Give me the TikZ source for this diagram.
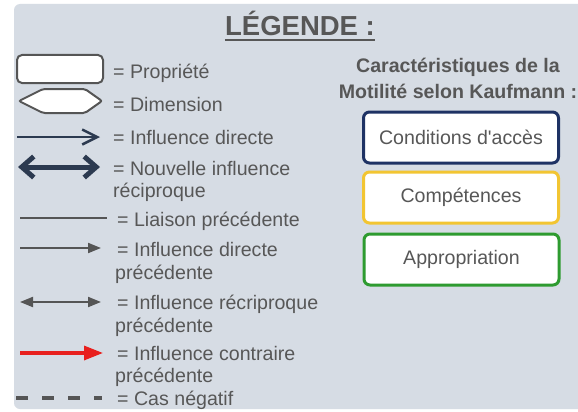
\documentclass[tikz,border=0pt]{standalone}
\usepackage{fontspec}
\newfontfamily\lib{Liberation Sans}
\usetikzlibrary{arrows.meta}
\definecolor{panel}{HTML}{D6DCE4}
\definecolor{txt}{HTML}{575757}
\definecolor{navy}{HTML}{2C3A50}
\definecolor{gline}{HTML}{555555}
\definecolor{redc}{HTML}{E8201E}
\definecolor{bnavy}{HTML}{1E3264}
\definecolor{byellow}{HTML}{F2C532}
\definecolor{bgreen}{HTML}{2E9B30}
\begin{document}
\begin{tikzpicture}[x=1pt,y=-1pt,
  font=\lib\fontsize{19.6}{23}\selectfont,
  lbl/.style={anchor=base west, text=txt, inner sep=0pt},
  hdr/.style={anchor=base, text=txt, inner sep=0pt, font=\lib\bfseries\fontsize{19.6}{23}\selectfont},
  box/.style={draw, line width=3pt, rounded corners=6pt, fill=white, minimum width=195pt, minimum height=51pt, text=txt, inner sep=0pt},
  glink/.style={draw=gline, line width=2pt}
]
\useasboundingbox (0,0) rectangle (578,412);
\fill[white] (0,0) rectangle (578,412);
\fill[panel, rounded corners=6pt] (14,4) rectangle (592,409);

% title
\node[anchor=base, text=txt, inner sep=0pt, font=\lib\bfseries\fontsize{27.5}{30}\selectfont] (title) at (300,36) {LÉGENDE :};
\draw[txt, line width=2.5pt] ([yshift=-4pt]title.base west) -- ([yshift=-4pt]title.base east);

% Propriete
\node[draw=gline, line width=2pt, fill=white, rounded corners=5pt, minimum width=86pt, minimum height=28pt, inner sep=0pt] (prop) at (60,69) {};
\node[lbl] (tprop) at (113,78) {= Propriété};

% Dimension
\draw[gline, line width=2pt, fill=white, rounded corners=2pt] (19,101) -- (43,89) -- (85,89) -- (102,101) -- (85,113) -- (43,113) -- cycle;
\node[lbl] (tdim) at (113,111) {= Dimension};

% Influence directe
\coordinate (a1s) at (17,137); \coordinate (a1e) at (100,137);
\draw[navy, line width=2.5pt, -{Straight Barb[length=15pt,width=15pt]}] (a1s) -- (a1e);
\node[lbl] (t1) at (113,144.5) {= Influence directe};

% Nouvelle influence reciproque
\coordinate (a2s) at (18,167); \coordinate (a2e) at (100,167);
\draw[navy, line width=5pt, {Straight Barb[length=12pt,width=21pt]}-{Straight Barb[length=12pt,width=21pt]}] (a2s) -- (a2e);
\node[lbl] (t2) at (113,175) {= Nouvelle influence};
\node[lbl] (t2b) at (113,197) {réciproque};

% Liaison precedente
\coordinate (a3s) at (20,218); \coordinate (a3e) at (107,218);
\draw[glink] (a3s) -- (a3e);
\node[lbl] (t3) at (117,226) {= Liaison précédente};

% Influence directe precedente
\coordinate (a4s) at (20,248); \coordinate (a4e) at (101,248);
\draw[glink, -{Triangle[length=13pt,width=10pt]}] (a4s) -- (a4e);
\node[lbl] (t4) at (117,256.5) {= Influence directe};
\node[lbl] (t4b) at (115,279.5) {précédente};

% Influence reciproque precedente
\coordinate (a5s) at (20,302); \coordinate (a5e) at (101,302);
\draw[glink, {Triangle[length=13pt,width=10pt]}-{Triangle[length=13pt,width=10pt]}] (a5s) -- (a5e);
\node[lbl] (t5) at (117,309.5) {= Influence récriproque};
\node[lbl] (t5b) at (115,332) {précédente};

% Influence contraire precedente
\coordinate (a6s) at (20,353); \coordinate (a6e) at (103,353);
\draw[redc, line width=3.3pt, -{Triangle[length=19pt,width=14pt]}] (a6s) -- (a6e);
\node[lbl] (t6) at (117,360) {= Influence contraire};
\node[lbl] (t6b) at (115,382.5) {précédente};

% Cas negatif
\coordinate (a7s) at (16,398); \coordinate (a7e) at (102,398);
\draw[gline, line width=3.3pt, dash pattern=on 12pt off 14pt] (a7s) -- (a7e);
\node[lbl] (t7) at (117,405) {= Cas négatif};

% right side
\node[hdr] (h1) at (458,73) {Caractéristiques de la};
\node[hdr] (h2) at (458,98.5) {Motilité selon Kaufmann :};
\node[box, draw=bnavy] (c1) at (461,137.5) {Conditions d'accès};
\node[box, draw=byellow] (c2) at (461,197.5) {Compétences};
\node[box, draw=bgreen] (c3) at (461.5,259.5) {Appropriation};
\end{tikzpicture}
\end{document}
